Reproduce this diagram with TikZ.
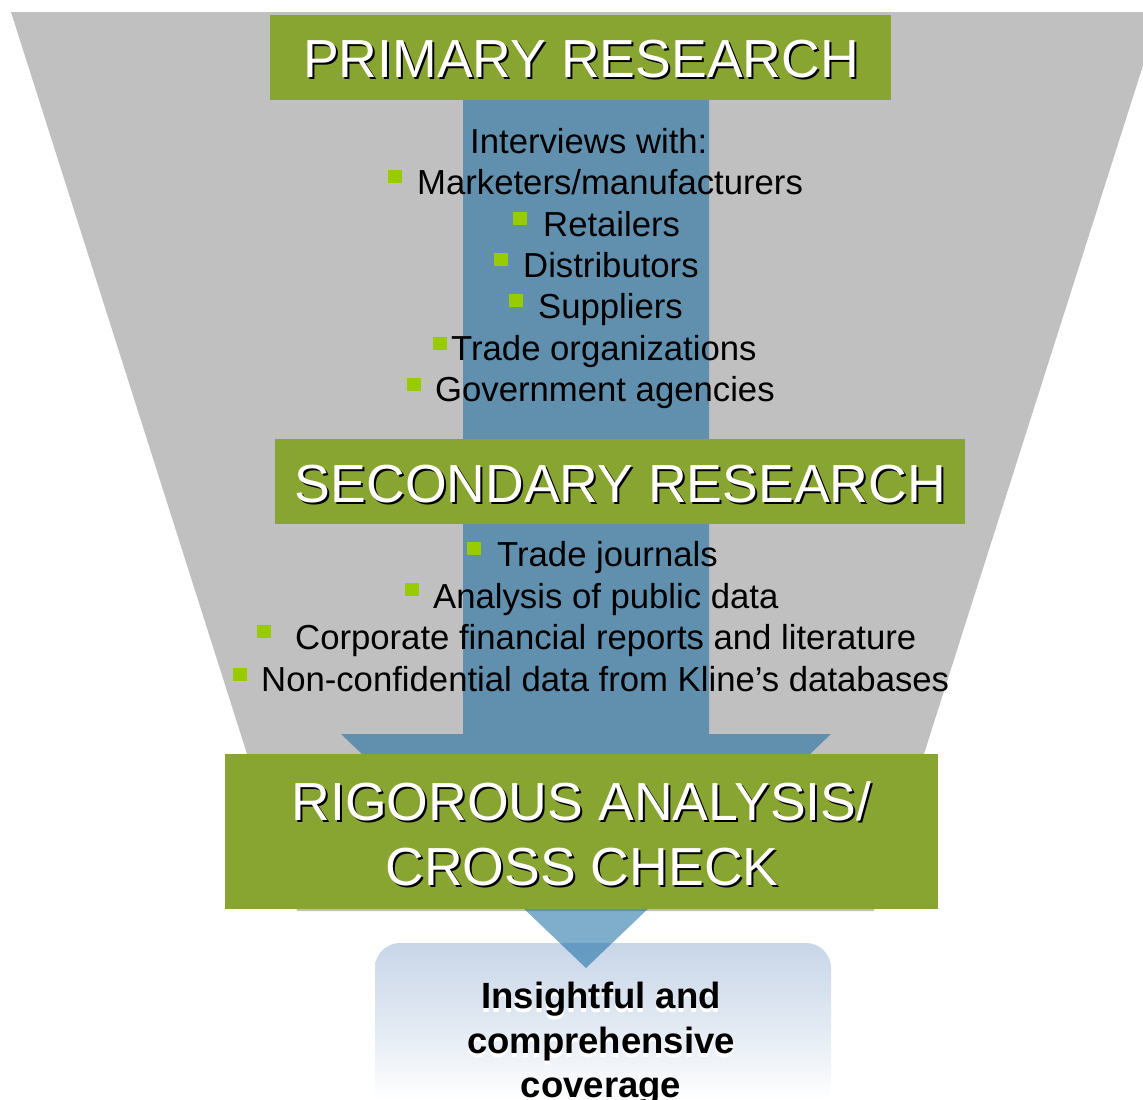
\documentclass[tikz,border=0pt]{standalone}
\usepackage{fontspec}
\setmainfont{Liberation Sans}
\definecolor{funnelgray}{RGB}{192,192,192}
\definecolor{boxgreen}{RGB}{137,165,49}
\definecolor{arrowblue}{RGB}{10,100,160}
\definecolor{bulletgreen}{RGB}{153,204,0}
\definecolor{boxblue}{RGB}{200,214,232}
\begin{document}
\begin{tikzpicture}[x=1pt,y=-1pt,
  gbox/.style={fill=boxgreen, draw=none, inner sep=0pt},
  ttl/.style={text=white, font=\fontsize{53.6}{60}\selectfont, inner sep=0pt, anchor=base},
  ttlshadow/.style={text=black, font=\fontsize{53.6}{60}\selectfont, inner sep=0pt, anchor=base},
  item/.style={text=black, font=\fontsize{34.7}{40}\selectfont, inner sep=0pt, anchor=base west},
  bul/.style={fill=bulletgreen, draw=none, inner sep=0pt, minimum width=14pt, minimum height=13pt, anchor=north west},
  outtxt/.style={text=black, font=\fontsize{36.5}{44}\selectfont\bfseries, inner sep=0pt, anchor=base},
  outghost/.style={text=white, font=\fontsize{36.5}{44}\selectfont\bfseries, inner sep=0pt, anchor=base}]
\useasboundingbox (0,0) rectangle (1143,1100);
% funnel
\fill[funnelgray] (11,12) -- (1160,12) -- (874,911) -- (297,911) -- cycle;
% outcome box (rounded top, runs off the lower edge)
\shade[top color=boxblue, bottom color=white, middle color=boxblue!55!white]
  (375,1100) {[rounded corners=25pt] -- (375,943) -- (831,943)} -- (831,1100) -- cycle;
\node[inner sep=0pt, minimum width=456pt, minimum height=1pt] (outbox) at (603,1000) {};
% arrow
\fill[arrowblue, opacity=0.52] (463,100) -- (709,100) -- (709,734) -- (831,734) -- (586,968) -- (341,734) -- (463,734) -- cycle;
% green boxes
\node[gbox, minimum width=621pt, minimum height=85pt] (prim) at (580.5,57) {};
\node[gbox, minimum width=690pt, minimum height=85pt] (sec) at (620,481) {};
\node[gbox, minimum width=713pt, minimum height=155pt] (rig) at (581.5,831.5) {};
% titles
\node[ttlshadow] (primS) at (583,79) {PRIMARY RESEARCH};
\node[ttl] (primT) at (581,77) {PRIMARY RESEARCH};
\node[ttlshadow] (secS) at (622.5,504) {SECONDARY RESEARCH};
\node[ttl] (secT) at (620.5,502) {SECONDARY RESEARCH};
\node[ttlshadow] (rigS1) at (583.5,822) {RIGOROUS ANALYSIS/};
\node[ttl] (rigT1) at (581.5,820) {RIGOROUS ANALYSIS/};
\node[ttlshadow] (rigS2) at (584,887) {CROSS CHECK};
\node[ttl] (rigT2) at (582,885) {CROSS CHECK};
% primary items
\node[item] (intv) at (470,153) {Interviews with:};
\node[bul] (b1) at (388,170) {};
\node[item] (i1) at (417,194) {Marketers/manufacturers};
\node[bul] (b2) at (513,212) {};
\node[item] (i2) at (543,236) {Retailers};
\node[bul] (b3) at (494,253) {};
\node[item] (i3) at (523,277) {Distributors};
\node[bul] (b4) at (509,294) {};
\node[item] (i4) at (538,318) {Suppliers};
\node[bul] (b5) at (433,337) {};
\node[item] (i5) at (451,360) {Trade organizations};
\node[bul] (b6) at (407,378) {};
\node[item] (i6) at (435,401) {Government agencies};
% secondary items
\node[bul] (s1) at (467,542) {};
\node[item] (j1) at (497,566) {Trade journals};
\node[bul] (s2) at (405,583) {};
\node[item] (j2) at (433,608) {Analysis of public data};
\node[bul] (s3) at (257,625) {};
\node[item] (j3) at (295,649) {Corporate financial reports and literature};
\node[bul] (s4) at (233,668) {};
\node[item] (j4) at (261,691) {Non-confidential data from Kline’s databases};
% outcome text
\node[outghost] (og1) at (601,1012) {Insightful and};
\node[outghost] (og2) at (601,1057) {comprehensive};
\node[outtxt] (o1) at (601,1008) {Insightful and};
\node[outtxt] (o2) at (601,1053) {comprehensive};
\node[outtxt] (o3) at (601,1097) {coverage};
\end{tikzpicture}
\end{document}
